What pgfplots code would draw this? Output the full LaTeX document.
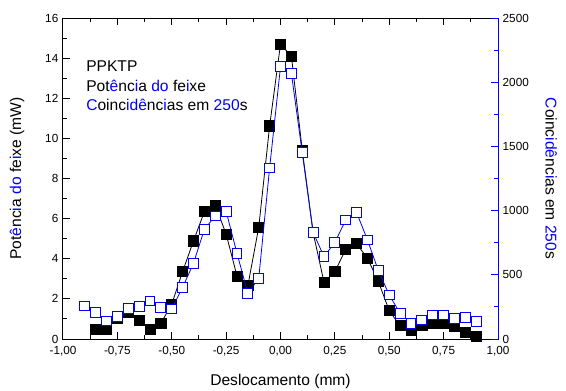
\documentclass[border=0pt]{standalone}
\usepackage{pgfplots}
\pgfplotsset{compat=1.18}
\usepackage{fontspec}
\setmainfont{Liberation Sans}
\newcommand{\bl}[1]{\textcolor{blue}{#1}}
\pgfplotstableread{
x y
-0.85 0.50
-0.80 0.50
-0.75 1.03
-0.70 1.33
-0.65 0.91
-0.60 0.50
-0.55 0.78
-0.50 1.74
-0.45 3.36
-0.40 4.89
-0.35 6.35
-0.30 6.68
-0.25 5.23
-0.20 3.14
-0.15 2.66
-0.10 5.57
-0.05 10.62
0.00 14.69
0.05 14.10
0.10 9.42
0.15 5.30
0.20 2.83
0.25 3.36
0.30 4.47
0.35 4.75
0.40 4.02
0.45 2.86
0.50 1.41
0.55 0.66
0.60 0.45
0.65 0.66
0.70 0.80
0.75 0.76
0.80 0.61
0.85 0.35
0.90 0.11
}\power
\pgfplotstableread{
x y
-0.90 257
-0.85 208
-0.80 140
-0.75 174
-0.70 236
-0.65 255
-0.60 296
-0.55 247
-0.50 234
-0.45 403
-0.40 590
-0.35 854
-0.30 958
-0.25 994
-0.20 667
-0.15 356
-0.10 473
-0.05 1332
0.00 2121
0.05 2069
0.10 1451
0.15 831
0.20 641
0.25 753
0.30 927
0.35 984
0.40 771
0.45 532
0.50 343
0.55 200
0.60 122
0.65 148
0.70 187
0.75 187
0.80 161
0.85 166
0.90 135
}\coinc
\begin{document}
\begin{tikzpicture}
\path[use as bounding box] (-47.25pt,-38.25pt) rectangle (377.25pt,254.25pt);
\pgfplotsset{
  common/.style={
    scale only axis, width=326.25pt, height=240.75pt,
    xmin=-1, xmax=1,
    tick align=inside,
    major tick length=5pt, minor tick length=3pt,
    axis line style={line width=0.75pt},
    tick style={line width=0.75pt},
    ticklabel style={font=\fontsize{8.8}{10}\selectfont},
    label style={font=\fontsize{11.7}{13}\selectfont},
    /pgf/number format/assume math mode=true,
  }
}
\begin{axis}[common,
  ymin=0, ymax=16,
  xtick={-1,-0.75,-0.5,-0.25,0,0.25,0.5,0.75,1},
  minor x tick num=1,
  ytick={0,2,4,6,8,10,12,14,16},
  minor y tick num=1,
  xtick pos=both, ytick pos=left,
  tick style={black},
  xticklabel style={yshift=-2pt, /pgf/number format/fixed, /pgf/number format/fixed zerofill, /pgf/number format/precision=2, /pgf/number format/use comma},
  yticklabel style={/pgf/number format/fixed, /pgf/number format/precision=0},
  xlabel={Deslocamento (mm)},
  xlabel style={at={(axis description cs:0.5,-0.1308)}, anchor=center},
  ylabel={Pot\bl{ê}nc\bl{i}a \bl{do} fe\bl{i}xe (mW)},
  ylabel style={at={(axis description cs:-0.1057,0.5)}, anchor=center},
]
\addplot[black, line width=0.6pt, mark=square*, mark size=3.8pt, mark options={solid, fill=black, draw=black}] table[x=x,y=y]{\power};
\node[anchor=base west, inner sep=0pt, font=\fontsize{11.7}{13}\selectfont] at (rel axis cs:0.0529,0.8318) {PPKTP};
\node[anchor=base west, inner sep=0pt, font=\fontsize{11.7}{13}\selectfont] at (rel axis cs:0.0529,0.771) {Pot\bl{ê}nc\bl{i}a \bl{do} fe\bl{i}xe};
\node[anchor=base west, inner sep=0pt, font=\fontsize{11.7}{13}\selectfont] at (rel axis cs:0.0529,0.7103) {\bl{C}oinc\bl{idê}nc\bl{i}as em \bl{250}s};
\end{axis}
\begin{axis}[common,
  ymin=0, ymax=2500,
  axis y line*=right, axis x line=none,
  ytick={0,500,1000,1500,2000,2500},
  minor y tick num=1,
  y axis line style={blue},
  ytick style={blue},
  yticklabel style={black, /pgf/number format/fixed, /pgf/number format/precision=0, /pgf/number format/1000 sep={}},
  ylabel={\bl{C}oinc\bl{idê}nc\bl{i}as em \bl{250}s},
  ylabel style={at={(axis description cs:1.1226,0.5)}, anchor=center, rotate=180},
]
\addplot[blue, line width=0.6pt, mark=square*, mark size=3.7pt, mark options={solid, fill=white, draw=blue, line width=0.7pt}] table[x=x,y=y]{\coinc};
\end{axis}
\end{tikzpicture}
\end{document}
